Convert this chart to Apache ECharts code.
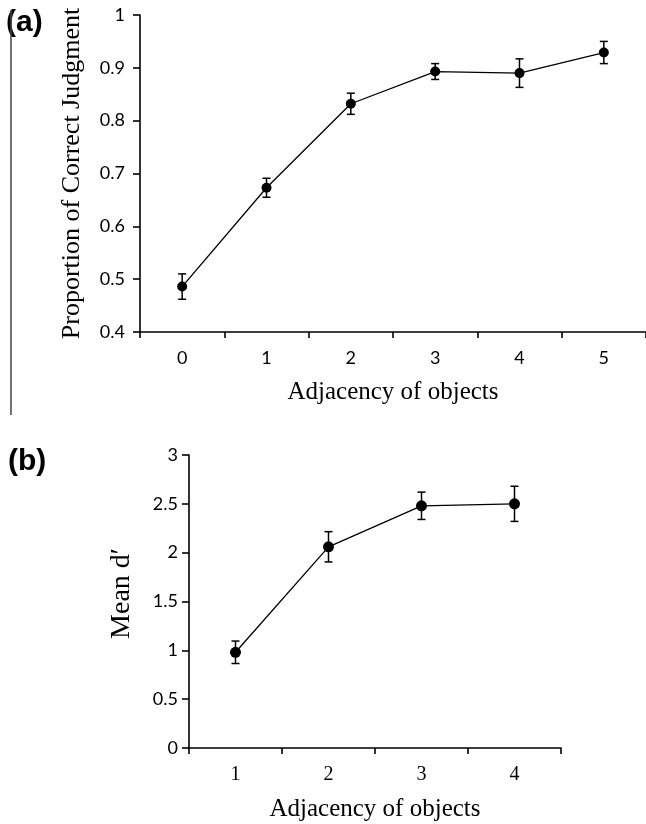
<!DOCTYPE html>
<html>
<head>
<meta charset="utf-8">
<script src="https://cdn.jsdelivr.net/npm/echarts@6/dist/echarts.min.js"></script>
<style>
  html, body { margin: 0; padding: 0; background: #fff; }
  #chart { width: 646px; height: 824px; }
</style>
</head>
<body>
<div id="chart"></div>
<script>
// panel (a)
let adjA = ['0', '1', '2', '3', '4', '5']
let propCorrect = [0.486, 0.673, 0.832, 0.893, 0.890, 0.929]
let propErr = [0.024, 0.018, 0.020, 0.015, 0.027, 0.021]
// panel (b)
let adjB = ['1', '2', '3', '4']
let meanD = [0.98, 2.06, 2.48, 2.50]
let meanDErr = [0.115, 0.155, 0.14, 0.18]

var chart = echarts.init(document.getElementById('chart'))

const serif = 'Liberation Serif'
const sans = 'Lato'

function errData(vals, errs) {
  return vals.map((v, i) => [i, v, errs[i]])
}

// vertical whisker + caps
function renderErr(params, api) {
  let i = api.value(0)
  let v = api.value(1)
  let e = api.value(2)
  let top = api.coord([i, v + e])
  let bot = api.coord([i, v - e])
  let w = 4
  let style = { stroke: '#000', lineWidth: 1.5 }
  return {
    type: 'group',
    children: [
      { type: 'line', shape: { x1: top[0], y1: top[1], x2: bot[0], y2: bot[1] }, style: style },
      { type: 'line', shape: { x1: top[0] - w, y1: top[1], x2: top[0] + w, y2: top[1] }, style: style },
      { type: 'line', shape: { x1: bot[0] - w, y1: bot[1], x2: bot[0] + w, y2: bot[1] }, style: style }
    ]
  }
}

function xAxisOpt(idx, cats, labelFont, labelSize, nameGap) {
  return {
    type: 'category',
    gridIndex: idx,
    data: cats,
    boundaryGap: true,
    name: 'Adjacency of objects',
    nameLocation: 'middle',
    nameGap: nameGap,
    nameTextStyle: { fontFamily: serif, fontSize: 25, color: '#000' },
    axisLine: { lineStyle: { color: '#000', width: 1.6 } },
    axisTick: { show: true, inside: false, length: 6, lineStyle: { color: '#000', width: 1.6 } },
    axisLabel: { color: '#000', fontFamily: labelFont, fontSize: labelSize, margin: 17 },
    splitLine: { show: false }
  }
}

function yAxisOpt(idx, min, max, interval, name, nameStyle, nameGap, margin) {
  return {
    type: 'value',
    gridIndex: idx,
    min: min,
    max: max,
    interval: interval,
    name: name,
    nameLocation: 'middle',
    nameGap: nameGap,
    nameTextStyle: nameStyle,
    axisLine: { show: true, lineStyle: { color: '#000', width: 1.6 } },
    axisTick: { show: true, inside: false, length: 7, lineStyle: { color: '#000', width: 1.6 } },
    axisLabel: { color: '#000', fontFamily: sans, fontSize: 18, margin: margin },
    splitLine: { show: false }
  }
}

let option = {
  backgroundColor: '#fff',
  animation: false,
  grid: [
    { left: 140, top: 15, width: 506, height: 317 },
    { left: 189, top: 455, width: 372, height: 293 }
  ],
  xAxis: [
    xAxisOpt(0, adjA, sans, 18, 48),
    xAxisOpt(1, adjB, serif, 20, 49)
  ],
  yAxis: [
    yAxisOpt(0, 0.4, 1, 0.1, 'Proportion of Correct Judgment',
      { fontFamily: serif, fontSize: 26, color: '#000' }, 55, 15),
    yAxisOpt(1, 0, 3, 0.5, 'Mean d\u2032',
      { fontFamily: serif, fontSize: 28, color: '#000', padding: [0, 0, 0, 16] }, 53, 11)
  ],
  graphic: [
    { type: 'text', left: 6, top: 8, style: { text: '(a)', font: 'bold 30px "Liberation Sans"', fill: '#000' } },
    { type: 'text', left: 8, top: 447, style: { text: '(b)', font: 'bold 30px "Liberation Sans"', fill: '#000' } },
    { type: 'line', shape: { x1: 11, y1: 10, x2: 11, y2: 415 }, style: { stroke: '#444', lineWidth: 1.5 } }
  ],
  series: [
    {
      type: 'custom',
      xAxisIndex: 0,
      yAxisIndex: 0,
      renderItem: renderErr,
      data: errData(propCorrect, propErr),
      z: 1
    },
    {
      type: 'line',
      xAxisIndex: 0,
      yAxisIndex: 0,
      data: propCorrect,
      symbol: 'circle',
      symbolSize: 10,
      showSymbol: true,
      itemStyle: { color: '#000' },
      lineStyle: { color: '#000', width: 1.3 },
      z: 2
    },
    {
      type: 'custom',
      xAxisIndex: 1,
      yAxisIndex: 1,
      renderItem: renderErr,
      data: errData(meanD, meanDErr),
      z: 1
    },
    {
      type: 'line',
      xAxisIndex: 1,
      yAxisIndex: 1,
      data: meanD,
      symbol: 'circle',
      symbolSize: 11,
      showSymbol: true,
      itemStyle: { color: '#000' },
      lineStyle: { color: '#000', width: 1.3 },
      z: 2
    }
  ]
}

chart.setOption(option)
</script>
</body>
</html>
